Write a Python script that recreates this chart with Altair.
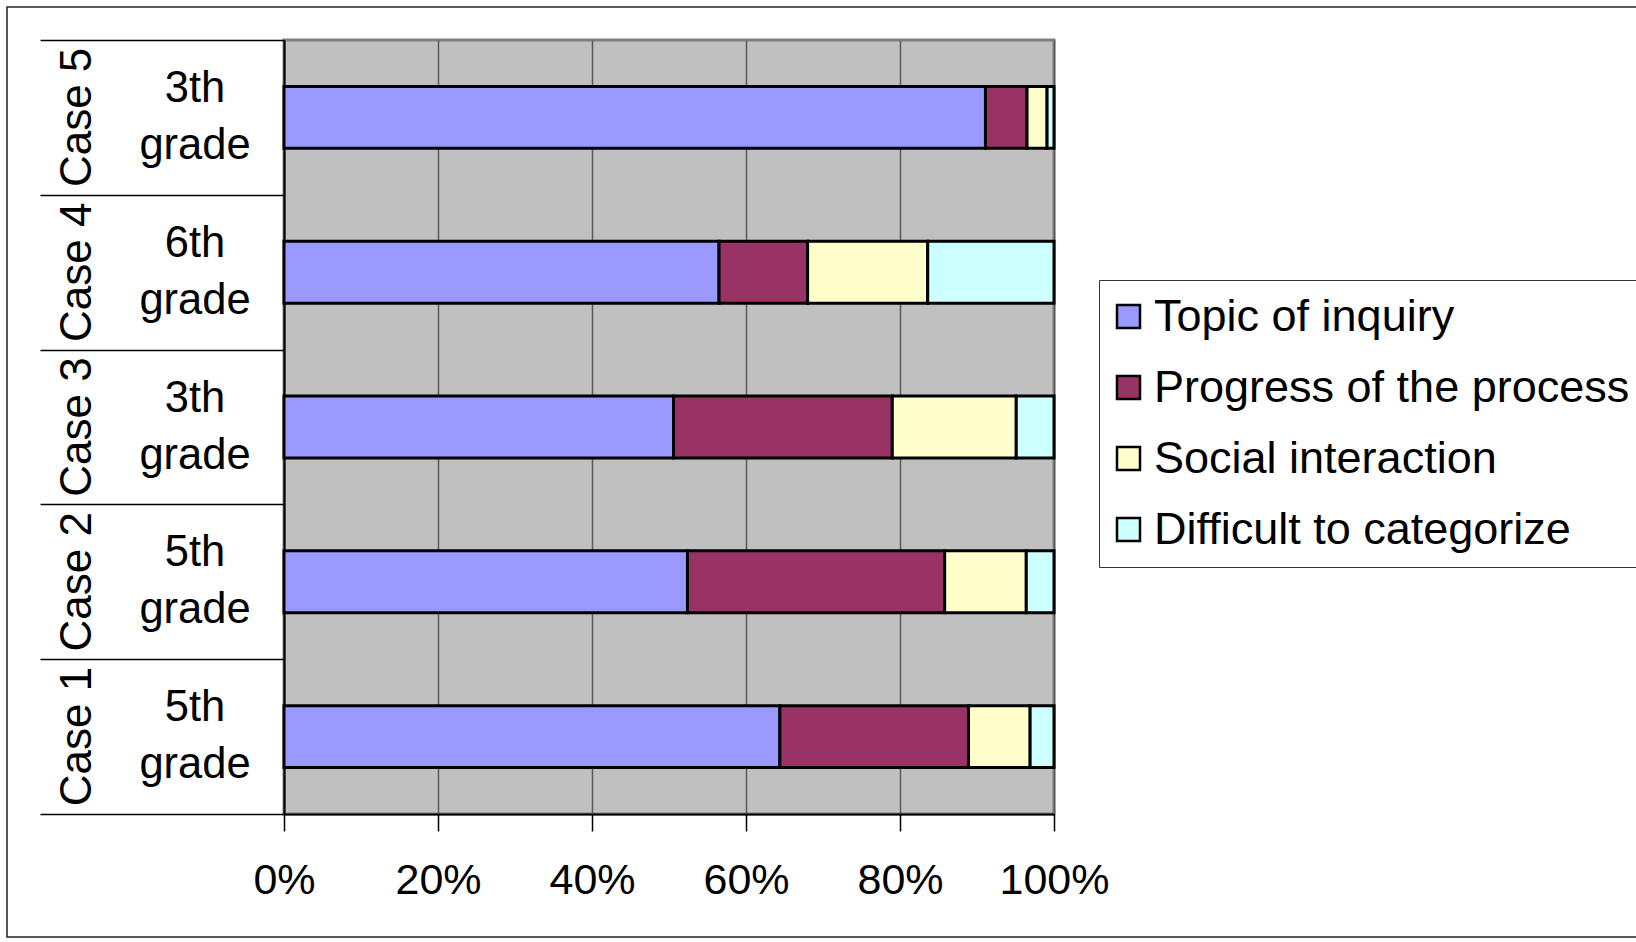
import altair as alt
import pandas as pd

# Share of utterances per category (percent of each case's total)
cases = ["Case 1", "Case 2", "Case 3", "Case 4", "Case 5"]
grades = ["5th\ngrade", "5th\ngrade", "3th\ngrade", "6th\ngrade", "3th\ngrade"]
categories = ["Topic of inquiry", "Progress of the process",
              "Social interaction", "Difficult to categorize"]
topic = [64.4, 52.4, 50.6, 56.5, 91.1]
progress = [24.5, 33.4, 28.4, 11.5, 5.4]
social = [8.0, 10.6, 16.1, 15.6, 2.6]
difficult = [3.1, 3.6, 4.9, 16.4, 0.9]
colors = ["#9999FF", "#993366", "#FFFFCC", "#CCFFFF"]

series = [topic, progress, social, difficult]
rows = []
for k, (cat, vals) in enumerate(zip(categories, series)):
    for c, v in zip(cases, vals):
        rows.append({"case": c, "category": cat, "order": k, "value": v})
bars_df = pd.DataFrame(rows)
labels_df = pd.DataFrame({"case": cases, "grade": grades})

FONT = "Arial"
case_order = cases[::-1]

# Full-height bands so the axis ticks mark the boundaries between cases
y_enc = alt.Y(
    "case:N",
    sort=case_order,
    scale=alt.Scale(paddingInner=0, paddingOuter=0),
    axis=alt.Axis(
        title=None, labels=False, grid=False,
        tickBand="extent", tickSize=244, tickColor="black", tickWidth=1.5,
        domainColor="black", domainWidth=2,
    ),
)

bars = alt.Chart(bars_df).mark_bar(
    stroke="black", strokeWidth=3, height=alt.RelativeBandSize(0.4)
).encode(
    x=alt.X(
        "value:Q",
        stack="normalize",
        scale=alt.Scale(domain=[0, 1], nice=False),
        axis=alt.Axis(
            title=None, format=".0%", values=[0, 0.2, 0.4, 0.6, 0.8, 1.0],
            grid=True, gridColor="#5a5a5a", gridWidth=1.5,
            tickSize=17, tickColor="black", tickWidth=1.5,
            domainColor="black", domainWidth=2,
            labelFont=FONT, labelFontSize=43, labelColor="black",
            labelPadding=28, labelFlush=False,
        ),
    ),
    y=y_enc,
    fill=alt.Fill(
        "category:N",
        sort=categories,
        scale=alt.Scale(domain=categories, range=colors),
        legend=alt.Legend(
            title=None, orient="none", legendX=815, legendY=240,
            labelFont=FONT, labelFontSize=45, labelColor="black", labelLimit=0,
            symbolType="square", symbolSize=529, symbolStrokeColor="black",
            symbolStrokeWidth=2.5, symbolOpacity=1, symbolOffset=-7,
            labelOffset=3, rowPadding=25, padding=14,
            strokeColor="#333333", fillColor="white",
        ),
    ),
    order=alt.Order("order:Q"),
)

grade_text = alt.Chart(labels_df).mark_text(
    font=FONT, fontSize=43.5, color="black", lineBreak="\n", lineHeight=57,
    align="center", baseline="middle", dy=-28.5,
).encode(y=y_enc, x=alt.value(-89), text="grade:N")

case_text = alt.Chart(labels_df).mark_text(
    font=FONT, fontSize=44, color="black", angle=270,
    align="center", baseline="middle",
).encode(y=y_enc, x=alt.value(-206), text="case:N")

# Thin frame around the whole figure
frame = alt.Chart(pd.DataFrame({"f": [0]})).mark_rect(
    fillOpacity=0, stroke="#222222", strokeWidth=1.5
).encode(
    x=alt.value(-277), x2=alt.value(1380),
    y=alt.value(-33), y2=alt.value(897),
)

chart = alt.layer(frame, bars, grade_text, case_text).properties(
    width=770, height=774,
    autosize=alt.AutoSizeParams(type="none"),
    padding={"left": 284, "top": 40, "right": 582, "bottom": 129},
    background="white",
).configure_view(
    fill="#C0C0C0", stroke="#808080", strokeWidth=3,
)

chart.save("out.html", embed_options={"renderer": "svg", "actions": False})
